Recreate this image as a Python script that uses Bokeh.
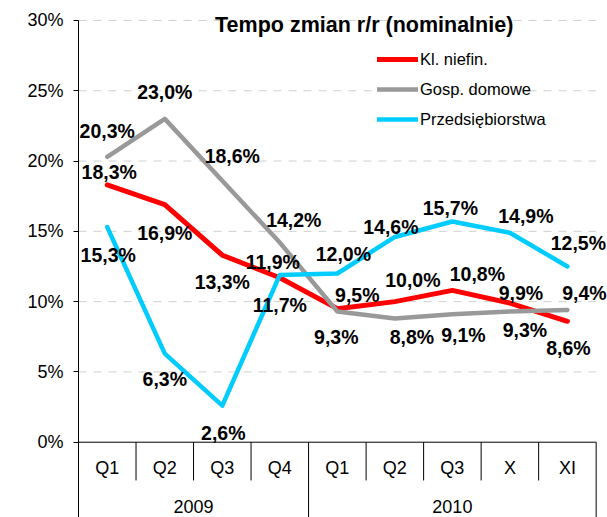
from bokeh.plotting import figure
from bokeh.models import (ColumnDataSource, Range1d, FixedTicker, LabelSet, Label,
                          Legend, LegendItem)
from bokeh.embed import file_html
from bokeh.resources import INLINE
from bokeh.core.properties import value

# ---------------- data ----------------
categories = ["Q1", "Q2", "Q3", "Q4", "Q1", "Q2", "Q3", "X", "XI"]
years = ["2009", "2010"]
year_sizes = [4, 5]

kl_niefin = [18.3, 16.9, 13.3, 11.7, 9.5, 10.0, 10.8, 9.9, 8.6]
gosp_domowe = [20.3, 23.0, 18.6, 14.2, 9.3, 8.8, 9.1, 9.3, 9.4]
przedsiebiorstwa = [15.3, 6.3, 2.6, 11.9, 12.0, 14.6, 15.7, 14.9, 12.5]

series_names = ["Kl. niefin.", "Gosp. domowe", "Przedsiębiorstwa"]
y_ticks = [0, 5, 10, 15, 20, 25, 30]
y_tick_labels = ["0%", "5%", "10%", "15%", "20%", "25%", "30%"]
title_text = "Tempo zmian r/r (nominalnie)"

# ---------------- label offsets (style, px: dx right, dy up) ----------------
red_dx = [2, 0, 0, 0, 20, 18, 25, 11, 1]
red_dy = [13, -28, -27, -27, 14, 22, 16, 10, -27]
gray_dx = [0, 0, 10, 14, -1, 17, 11, 15, 17]
gray_dy = [26, 27, 25, 23, -26, -19, -21, -19, 17]
cyan_dx = [1, 0, 1, -7, 6, -4, -2, 16, 11]
cyan_dy = [-28, -25, -27, 13, 20, 10, 13, 17, 23]

RED = "#FF0000"
GRAY = "#999999"
CYAN = "#00CCFF"
FONT = "Liberation Sans"

n = len(categories)
xs = [i + 0.5 for i in range(n)]

Y0 = -5.356
p = figure(width=607, height=517, output_backend="svg", toolbar_location=None,
           x_range=Range1d(0, 9.197), y_range=Range1d(Y0, 31.42),
           x_axis_location=None, min_border_left=78, min_border_right=0,
           min_border_top=0, min_border_bottom=0)
p.outline_line_color = None
p.xgrid.visible = False
p.ygrid.visible = False

# y axis
p.yaxis.ticker = FixedTicker(ticks=y_ticks)
p.yaxis.major_label_overrides = {t: l for t, l in zip(y_ticks, y_tick_labels)}
p.yaxis.major_label_text_font = FONT
p.yaxis.major_label_text_font_size = "18px"
p.yaxis.major_label_text_color = "#000000"
p.yaxis.major_tick_out = 5
p.yaxis.major_tick_in = 0
p.yaxis.minor_tick_line_color = None
p.yaxis.axis_line_color = "#000000"
p.yaxis.major_tick_line_color = "#000000"
p.yaxis.major_label_standoff = 10
p.yaxis.bounds = (Y0, 30)

# dashed horizontal gridlines spanning the category area
grid_y = [t for t in y_ticks if t != 0]
p.segment(x0=[0] * len(grid_y), y0=grid_y, x1=[n] * len(grid_y), y1=grid_y,
          line_color="#d0d0d0", line_width=1, line_dash="8 7")

# category axis drawn by hand
p.segment(x0=[0], y0=[0], x1=[n], y1=[0], line_color="#000000", line_width=1)
group_bounds = []
acc = 0
for s in year_sizes:
    acc += s
    group_bounds.append(acc)
short_x = [b for b in range(1, n) if b not in group_bounds]
p.segment(x0=short_x, y0=[0] * len(short_x), x1=short_x, y1=[-2.72] * len(short_x),
          line_color="#000000", line_width=1)
p.segment(x0=group_bounds, y0=[0] * len(group_bounds), x1=group_bounds,
          y1=[Y0] * len(group_bounds), line_color="#000000", line_width=1)

p.text(x=xs, y=[-1.87] * n, text=categories, text_align="center",
       text_baseline="middle", text_font=value(FONT), text_font_size="18px",
       text_color="#000000")
year_x = []
start = 0
for s in year_sizes:
    year_x.append(start + s / 2)
    start += s
p.text(x=year_x, y=[-4.55] * len(years), text=years, text_align="center",
       text_baseline="middle", text_font=value(FONT), text_font_size="18px",
       text_color="#000000")

# series
renderers = []
for vals, col, lw in [(kl_niefin, RED, 5), (gosp_domowe, GRAY, 4.5),
                      (przedsiebiorstwa, CYAN, 4.5)]:
    r = p.line(xs, vals, line_color=col, line_width=lw, line_join="round",
               line_cap="round")
    renderers.append(r)

# data labels
def fmt(v):
    return ("%.1f" % v).replace(".", ",") + "%"

for vals, dx, dy in [(kl_niefin, red_dx, red_dy), (gosp_domowe, gray_dx, gray_dy),
                     (przedsiebiorstwa, cyan_dx, cyan_dy)]:
    src = ColumnDataSource(dict(x=xs, y=vals, t=[fmt(v) for v in vals], dx=dx, dy=dy))
    ls = LabelSet(x="x", y="y", text="t", x_offset="dx", y_offset="dy", source=src,
                  text_align="center", text_baseline="middle", text_font=value(FONT),
                  text_font_size="19.5px", text_font_style="bold",
                  text_color="#000000")
    p.add_layout(ls)

# title
p.add_layout(Label(x=4.967, y=29.71, text=title_text, text_align="center",
                   text_baseline="middle", text_font=FONT, text_font_size="21.5px",
                   text_font_style="bold", text_color="#000000"))

# legend
legend = Legend(items=[LegendItem(label=nm, renderers=[r])
                       for nm, r in zip(series_names, renderers)],
                location=(299, 388), glyph_width=41, glyph_height=20,
                label_height=20, label_standoff=2, spacing=10, padding=0, margin=0,
                border_line_color=None, background_fill_alpha=0,
                label_text_font=FONT, label_text_font_size="16.5px",
                label_text_color="#000000")
p.add_layout(legend)

open("out.html", "w").write(file_html(p, INLINE))
